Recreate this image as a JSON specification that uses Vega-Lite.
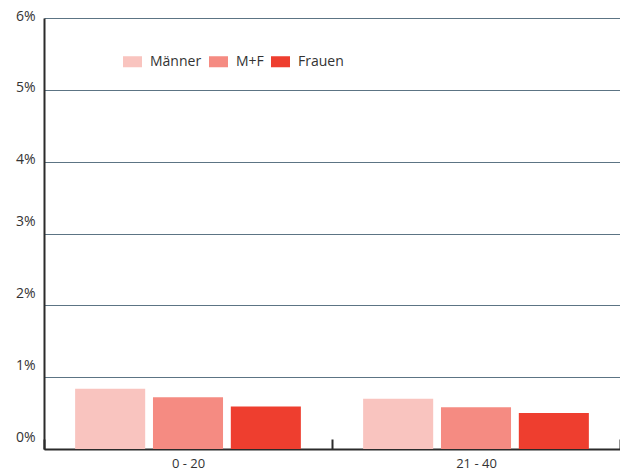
{
  "$schema": "https://vega.github.io/schema/vega-lite/v6.json",
  "autosize": {"type": "none"},
  "padding": {"left": 44, "top": 18, "right": 0, "bottom": 27},
  "width": 576,
  "height": 431,
  "background": "white",
  "config": {
    "view": {"stroke": null},
    "font": "Open Sans"
  },
  "data": {
    "values": [
      {"age": "0 - 20", "group": "Männer", "value": 0.84},
      {"age": "0 - 20", "group": "M+F", "value": 0.72},
      {"age": "0 - 20", "group": "Frauen", "value": 0.59},
      {"age": "21 - 40", "group": "Männer", "value": 0.70},
      {"age": "21 - 40", "group": "M+F", "value": 0.58},
      {"age": "21 - 40", "group": "Frauen", "value": 0.50}
    ]
  },
  "mark": {"type": "bar"},
  "encoding": {
    "x": {
      "field": "age",
      "type": "nominal",
      "sort": ["0 - 20", "21 - 40"],
      "scale": {"paddingInner": 0, "paddingOuter": 0},
      "axis": {
        "title": null,
        "labelAngle": 0,
        "tickBand": "extent",
        "tickSize": -10,
        "tickWidth": 2,
        "tickColor": "#2b2b2b",
        "domainColor": "#2b2b2b",
        "domainWidth": 2,
        "labelFontSize": 13,
        "labelColor": "#333333",
        "labelPadding": 18,
        "grid": false
      }
    },
    "xOffset": {
      "field": "group",
      "type": "nominal",
      "sort": ["Männer", "M+F", "Frauen"],
      "scale": {"paddingInner": 0.1, "paddingOuter": 0.4}
    },
    "y": {
      "field": "value",
      "type": "quantitative",
      "scale": {"domain": [0, 6], "nice": false},
      "axis": {
        "title": null,
        "values": [0, 1, 2, 3, 4, 5, 6],
        "labelExpr": "datum.value + '%'",
        "labelFontSize": 14,
        "labelColor": "#333333",
        "labelPadding": 9,
        "labelBaseline": "middle",
        "labelOffset": {"condition": {"test": "datum.value >= 4", "value": -2}, "value": -12},
        "ticks": false,
        "grid": true,
        "gridColor": "#5c7484",
        "gridWidth": 1,
        "domainColor": "#2b2b2b",
        "domainWidth": 2
      }
    },
    "color": {
      "field": "group",
      "type": "nominal",
      "sort": ["Männer", "M+F", "Frauen"],
      "scale": {"domain": ["Männer", "M+F", "Frauen"], "range": ["#f9c4bf", "#f58b82", "#ee3e2f"]},
      "legend": {
        "title": null,
        "orient": "none",
        "legendX": 79,
        "legendY": 34,
        "direction": "horizontal",
        "symbolType": "M-1,-0.58L1,-0.58L1,0.58L-1,0.58Z",
        "symbolSize": 361,
        "symbolStrokeWidth": 0,
        "symbolOpacity": 1,
        "labelFontSize": 14,
        "labelColor": "#333333",
        "labelOffset": 8,
        "columnPadding": 7
      }
    }
  }
}
